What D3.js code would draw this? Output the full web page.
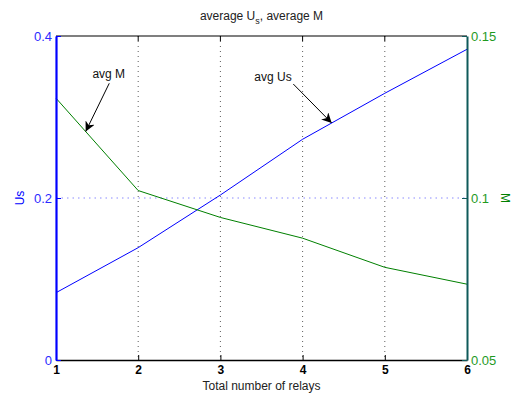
<!DOCTYPE html>
<html>
<head>
<meta charset="utf-8">
<script src="https://cdn.jsdelivr.net/npm/d3@7"></script>
<style>
  body { margin: 0; background: #fff; }
  svg text { font-family: "Liberation Sans", Arial, Helvetica, sans-serif; }
</style>
</head>
<body>
<div id="chart"></div>
<script>
// Data
const relays = [1, 2, 3, 4, 5, 6];
const avgUs  = [0.0831, 0.1387, 0.2037, 0.2725, 0.3293, 0.3836];
const avgM   = [0.1308, 0.1023, 0.0940, 0.0876, 0.0786, 0.0734];
const usTicks = [0, 0.2, 0.4];
const mTicks  = [0.05, 0.1, 0.15];

// Annotations (text position and arrow tail/tip in data units)
const notes = [
    {label: "avg M",  axis: "m",  text: [1.642, 0.1383], tail: [1.648, 0.1354], tip: [1.361, 0.1205]},
    {label: "avg Us", axis: "us", text: [3.64, 0.350],   tail: [3.887, 0.3407], tip: [4.354, 0.2926]}
];

const blue = "#0000ff", green = "#008000", teal = "#0f5a5a";

let width = 515, height = 395;
let margin = {top: 36, right: 48, bottom: 35, left: 56};
let xwidth = width - margin.left - margin.right;
let yheight = height - margin.top - margin.bottom;

let svg = d3.select("#chart").append("svg")
    .attr("width", width)
    .attr("height", height);

let g = svg.append("g")
    .attr("transform", "translate(" + margin.left + "," + margin.top + ")");

let x  = d3.scaleLinear().domain([1, 6]).range([0, xwidth]);
let yU = d3.scaleLinear().domain([0, 0.4]).range([yheight, 0]);
let yM = d3.scaleLinear().domain([0.05, 0.15]).range([yheight, 0]);

// Grid lines
g.selectAll(".vgrid").data(relays.slice(1, -1)).enter().append("line")
    .attr("x1", d => x(d)).attr("x2", d => x(d))
    .attr("y1", 0).attr("y2", yheight)
    .attr("stroke", "#333").attr("stroke-width", 0.8)
    .attr("stroke-dasharray", "1,4");
g.selectAll(".hgrid").data(usTicks.slice(1, -1)).enter().append("line")
    .attr("x1", 0).attr("x2", xwidth)
    .attr("y1", d => yU(d)).attr("y2", d => yU(d))
    .attr("stroke", "#8a8aff").attr("stroke-width", 1)
    .attr("stroke-dasharray", "1.5,4");

// Lines
let lineU = d3.line().x((d, i) => x(relays[i])).y(d => yU(d));
let lineM = d3.line().x((d, i) => x(relays[i])).y(d => yM(d));
g.append("path").attr("d", lineU(avgUs))
    .attr("fill", "none").attr("stroke", blue).attr("stroke-width", 1);
g.append("path").attr("d", lineM(avgM))
    .attr("fill", "none").attr("stroke", green).attr("stroke-width", 1);

// Frame: top
g.append("line").attr("x1", 0).attr("x2", xwidth).attr("y1", 0).attr("y2", 0)
    .attr("stroke", "#000").attr("stroke-width", 1.2);

// X axis
let xAxis = d3.axisBottom(x).tickValues(relays).tickFormat(d3.format("d"))
    .tickSizeInner(-5).tickSizeOuter(0).tickPadding(5);
let gx = g.append("g").attr("transform", "translate(0," + yheight + ")").call(xAxis);
gx.select(".domain").attr("stroke", "#000").attr("stroke-width", 1.5);
gx.selectAll(".tick line").attr("stroke", "#000");
gx.selectAll("text").attr("font-size", 12).attr("font-weight", "bold").attr("fill", "#000");

// top tick marks
g.selectAll(".ttick").data(relays.slice(1, -1)).enter().append("line")
    .attr("x1", d => x(d)).attr("x2", d => x(d))
    .attr("y1", 0).attr("y2", 5).attr("stroke", "#000");

// Left axis
let yAxisL = d3.axisLeft(yU).tickValues(usTicks).tickFormat(d3.format("~g"))
    .tickSizeInner(-5).tickSizeOuter(0).tickPadding(4);
let gl = g.append("g").call(yAxisL);
gl.select(".domain").attr("stroke", blue).attr("stroke-width", 2.2);
gl.selectAll(".tick line").attr("stroke", blue);
gl.selectAll("text").attr("font-size", 13).attr("fill", "#2b2bff");

// Right axis
let yAxisR = d3.axisRight(yM).tickValues(mTicks).tickFormat(d3.format("~g"))
    .tickSizeInner(-5).tickSizeOuter(0).tickPadding(4);
let gr = g.append("g").attr("transform", "translate(" + xwidth + ",0)").call(yAxisR);
gr.select(".domain").attr("stroke", teal).attr("stroke-width", 2);
gr.selectAll(".tick line").attr("stroke", teal);
gr.selectAll("text").attr("font-size", 13).attr("fill", "#1f9a1f");

// Axis labels
g.append("text")
    .attr("transform", "translate(-32," + (yheight / 2) + ") rotate(-90)")
    .attr("text-anchor", "middle").attr("font-size", 12).attr("fill", blue)
    .text("Us");
g.append("text")
    .attr("transform", "translate(" + (xwidth + 34) + "," + (yheight / 2) + ") rotate(90)")
    .attr("text-anchor", "middle").attr("font-size", 12).attr("fill", green)
    .text("M");
g.append("text")
    .attr("x", xwidth / 2).attr("y", yheight + 30)
    .attr("text-anchor", "middle").attr("font-size", 12).attr("fill", "#222")
    .text("Total number of relays");

// Title
let title = svg.append("text")
    .attr("x", margin.left + xwidth / 2).attr("y", 20)
    .attr("text-anchor", "middle").attr("font-size", 12).attr("fill", "#222");
title.append("tspan").text("average U");
title.append("tspan").attr("font-size", 9).attr("dy", 4).text("s");
title.append("tspan").attr("dy", -4).text(", average M");

// Annotations
svg.append("defs").append("marker")
    .attr("id", "arrow").attr("viewBox", "0 0 10 10")
    .attr("refX", 10).attr("refY", 5)
    .attr("markerWidth", 10).attr("markerHeight", 10)
    .attr("markerUnits", "userSpaceOnUse")
    .attr("orient", "auto")
    .append("path").attr("d", "M0,0 L10,5 L0,10 L3,5 Z").attr("fill", "#000");

notes.forEach(function(n) {
    let ys = n.axis === "m" ? yM : yU;
    g.append("line")
        .attr("x1", x(n.tail[0])).attr("y1", ys(n.tail[1]))
        .attr("x2", x(n.tip[0])).attr("y2", ys(n.tip[1]))
        .attr("stroke", "#000").attr("stroke-width", 1)
        .attr("marker-end", "url(#arrow)");
    g.append("text")
        .attr("x", x(n.text[0])).attr("y", ys(n.text[1]))
        .attr("dy", "0.35em")
        .attr("text-anchor", "middle").attr("font-size", 12).attr("fill", "#111")
        .text(n.label);
});
</script>
</body>
</html>
